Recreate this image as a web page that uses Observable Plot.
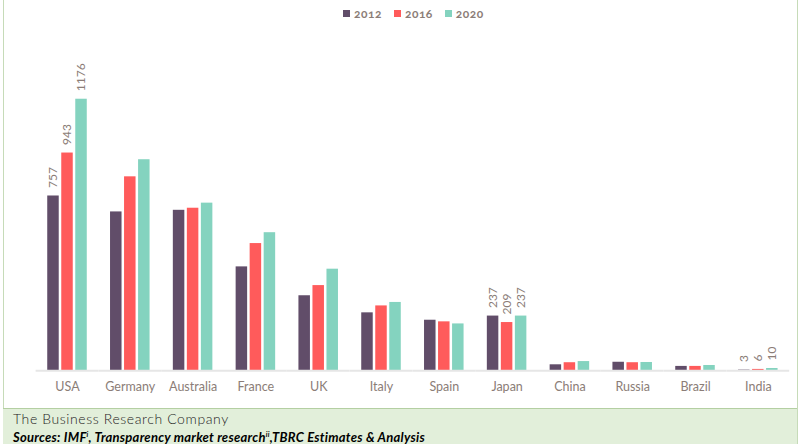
<!DOCTYPE html>
<html>
<head>
<meta charset="utf-8">
<script src="https://cdn.jsdelivr.net/npm/d3@7"></script>
<script src="https://cdn.jsdelivr.net/npm/@observablehq/plot@0.6"></script>
<style>
  html, body { margin: 0; padding: 0; background: #fff; }
  #wrap { position: relative; width: 801px; height: 444px; overflow: hidden; font-family: Lato, "Open Sans", sans-serif; }
  #chart { position: absolute; left: 0; top: 0; }
  #legend { position: absolute; top: 6px; left: 343px; display: flex; align-items: center; font-size: 12px; font-weight: 700; color: #8b7d77; font-variant-numeric: oldstyle-nums; letter-spacing: 0.5px; }
  #legend .item { display: flex; align-items: center; margin-right: 12px; }
  #legend .sw { width: 7px; height: 7px; margin-right: 4px; }
  #footer { position: absolute; left: 3px; top: 408px; width: 794px; height: 36px; background: #e2efda; border-top: 1px solid #b4cfa2; box-sizing: border-box; padding-left: 10px; }
  #footer .l1 { font-size: 14px; color: #222; line-height: 16px; margin-top: 2px; font-weight: 300; letter-spacing: 0.6px; }
  #footer .l2 { font-size: 13px; color: #000; font-weight: 700; font-style: italic; line-height: 15px; letter-spacing: 0.25px; }
  #footer sup { font-size: 7px; vertical-align: 5px; }
  .vline { position: absolute; top: 0; width: 1px; height: 444px; background: #c6dbb8; }
</style>
</head>
<body>
<div id="wrap">
  <div class="vline" style="left:3px"></div>
  <div class="vline" style="left:797px"></div>
  <div id="chart"></div>
  <div id="legend"></div>
  <div id="footer">
    <div class="l1">The Business Research Company</div>
    <div class="l2">Sources: IMF<sup>i</sup>, Transparency market research<sup>ii</sup>,TBRC Estimates &amp; Analysis</div>
  </div>
</div>
<script>
const countries = ["USA","Germany","Australia","France","UK","Italy","Spain","Japan","China","Russia","Brazil","India"];
const years = ["2012","2016","2020"];
const v2012 = [757,688,695,450,325,251,219,237,26,37,19,3];
const v2016 = [943,840,704,551,369,281,212,209,35,35,19,6];
const v2020 = [1176,914,726,598,440,296,203,237,40,36,23,10];
const labelledCountries = ["USA","Japan","India"];
const colors = ["#614d69","#ff5b5b","#84d3bf"];

const series = [v2012, v2016, v2020];
const data = countries.flatMap((c, i) => years.map((y, j) => ({country: c, year: y, value: series[j][i]})));

const chart = Plot.plot({
  width: 801,
  height: 405,
  marginLeft: 35.6,
  marginRight: 11.8,
  marginTop: 47,
  marginBottom: 34.7,
  style: {fontFamily: "Lato, 'Open Sans', sans-serif", fontSize: "12.5px", color: "#8b7d77", background: "transparent"},
  fx: {domain: countries, padding: 0, round: false, label: null, axis: "bottom", tickSize: 0, tickPadding: 11},
  x: {domain: years, axis: null, round: false, paddingInner: 0.18, paddingOuter: 0.83},
  y: {domain: [0, 1400], axis: null},
  color: {domain: years, range: colors},
  marks: [
    Plot.barY(data, {fx: "country", x: "year", y: "value", fill: "year"}),
    Plot.ruleY([0], {stroke: "#e6e6e6", strokeWidth: 2}),
    Plot.text(data.filter(d => labelledCountries.includes(d.country)), {
      fx: "country", x: "year", y: "value", text: d => String(d.value),
      rotate: -90, textAnchor: "start", dy: -8, fill: "#8b7d77", fontSize: 12
    })
  ]
});
document.getElementById("chart").appendChild(chart);

const legend = document.getElementById("legend");
years.forEach((y, j) => {
  const item = document.createElement("div");
  item.className = "item";
  const sw = document.createElement("span");
  sw.className = "sw";
  sw.style.background = colors[j];
  const t = document.createElement("span");
  t.textContent = y;
  item.appendChild(sw);
  item.appendChild(t);
  legend.appendChild(item);
});
</script>
</body>
</html>
